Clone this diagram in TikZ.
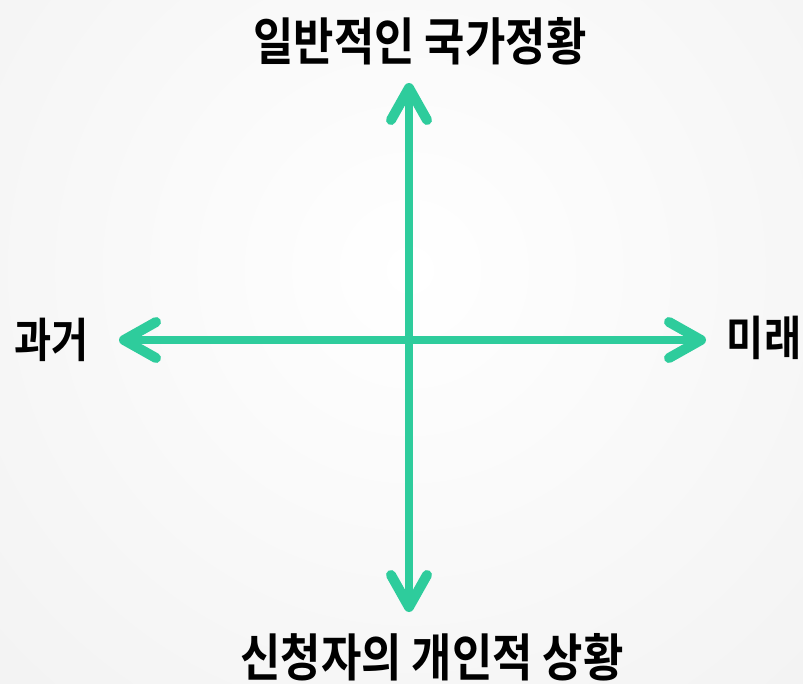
\documentclass[tikz,border=0pt]{standalone}
\usepackage{fontspec}
\newfontfamily\krfont{Noto Sans CJK KR Bold}
\usetikzlibrary{arrows.meta}
\definecolor{mint}{RGB}{46,204,156}
\definecolor{bgout}{RGB}{236,236,236}
\tikzset{
  axis/.style={line width=7.5pt, draw=mint, line cap=round,
    {Straight Barb[length=32pt,width=36pt,line width=10pt,round]}-{Straight Barb[length=32pt,width=36pt,line width=10pt,round]}},
  lbl/.style={inner sep=0pt, font=\krfont\fontsize{51}{53}\selectfont, xscale=0.86, text=black},
  slbl/.style={inner sep=0pt, font=\krfont\fontsize{47}{49}\selectfont, xscale=0.86, text=black}
}
\begin{document}
\begin{tikzpicture}[x=1pt,y=-1pt]
\useasboundingbox (0,0) rectangle (803,683);
\fill[bgout] (0,0) rectangle (803,683);
\begin{scope}
\clip (0,0) rectangle (803,683);
\shade[inner color=white, outer color=bgout] (410,270) circle (900);
\end{scope}
\coordinate (T) at (409,83);
\coordinate (B) at (409,612);
\coordinate (L) at (119,340);
\coordinate (R) at (706,340);
\draw[axis] (L) -- (R);
\draw[axis] (B) -- (T);
\node[lbl] (top) at (420,41) {일반적인 국가정황};
\node[lbl] (bot) at (432,657) {신청자의 개인적 상황};
\node[slbl] (left) at (52,340) {과거};
\node[slbl] (right) at (764,338) {미래};
\end{tikzpicture}
\end{document}
